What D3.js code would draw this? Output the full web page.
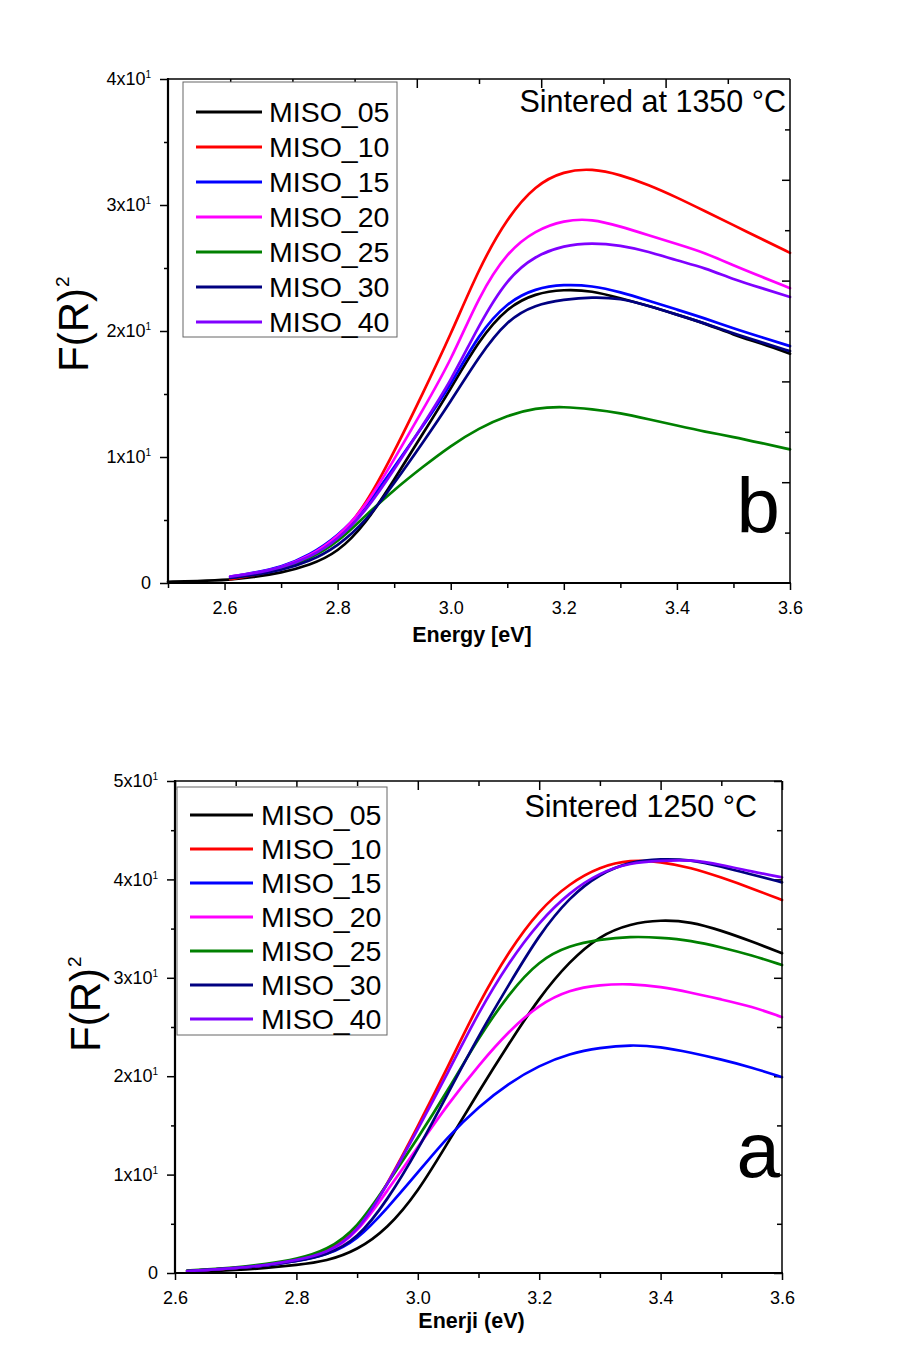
<!DOCTYPE html>
<html lang="en">
<head>
<meta charset="UTF-8" />
<title>F(R)2 vs energy</title>
<script src="https://d3js.org/d3.v7.min.js"></script>
<style>
  html, body { margin: 0; background: #fff; }
  svg { display: block; font-family: Arial, 'Liberation Sans', sans-serif; }
  .tick line { stroke: #000; stroke-width: 1.5px; }
  .tick text { fill: #000; }
  .series { fill: none; stroke-width: 2.7px; stroke-linejoin: round; stroke-linecap: round; }
</style>
</head>
<body>
<svg id="chart" width="905" height="1367"></svg>
<script>
const seriesNames = ['MISO_05', 'MISO_10', 'MISO_15', 'MISO_20', 'MISO_25', 'MISO_30', 'MISO_40'];
const seriesColors = ['#000000', '#ff0000', '#0000ff', '#ff00ff', '#008000', '#000080', '#8000ff'];

// panel b : sintered at 1350 C
const energyB = [2.5, 2.55, 2.61, 2.65, 2.7, 2.75, 2.8, 2.85, 2.9, 2.95, 3.0, 3.05, 3.1, 3.15, 3.2, 3.25, 3.3, 3.35, 3.4, 3.45, 3.5, 3.55, 3.6];
const b05 = [0.1, 0.15, 0.25, 0.45, 0.8, 1.4, 2.4, 4.7, 8.2, 11.8, 15.4, 19.3, 21.9, 23.0, 23.3, 23.2, 22.6, 22.0, 21.3, 20.6, 19.7, 19.0, 18.2];
const b10 = [null, null, 0.3, 0.6, 1.1, 2.0, 3.4, 6.2, 10.4, 15.0, 19.7, 25.0, 29.0, 31.6, 32.7, 32.9, 32.4, 31.6, 30.6, 29.5, 28.4, 27.3, 26.2];
const b15 = [null, null, 0.5, 0.8, 1.25, 2.2, 3.7, 6.0, 9.2, 12.4, 15.7, 19.8, 22.3, 23.4, 23.7, 23.6, 23.1, 22.4, 21.7, 21.0, 20.2, 19.5, 18.8];
const b20 = [null, null, 0.5, 0.75, 1.2, 2.1, 3.6, 6.1, 9.8, 13.7, 17.6, 22.8, 26.3, 28.0, 28.8, 28.9, 28.3, 27.6, 26.9, 26.2, 25.2, 24.3, 23.4];
const b25 = [null, null, 0.4, 0.65, 1.1, 1.9, 3.2, 5.4, 7.4, 9.2, 10.9, 12.3, 13.3, 13.9, 14.0, 13.8, 13.5, 13.0, 12.5, 12.0, 11.6, 11.1, 10.6];
const b30 = [null, null, 0.4, 0.6, 1.0, 1.7, 2.9, 4.9, 7.9, 11.1, 14.4, 18.0, 20.9, 22.1, 22.5, 22.7, 22.6, 22.0, 21.3, 20.6, 19.8, 19.1, 18.4];
const b40 = [null, null, 0.5, 0.75, 1.2, 2.0, 3.4, 5.7, 9.0, 12.5, 16.0, 20.5, 24.2, 26.0, 26.8, 27.0, 26.8, 26.3, 25.6, 25.0, 24.1, 23.4, 22.7];

// panel a : sintered 1250 C
const energyA = [2.62, 2.65, 2.7, 2.75, 2.8, 2.85, 2.9, 2.95, 3.0, 3.05, 3.1, 3.15, 3.2, 3.25, 3.3, 3.35, 3.4, 3.45, 3.5, 3.55, 3.6];
const a05 = [0.1, 0.15, 0.3, 0.5, 0.8, 1.2, 2.3, 4.5, 8.2, 13.3, 18.4, 23.3, 28.0, 31.7, 34.3, 35.5, 35.9, 35.7, 34.8, 33.7, 32.5];
const a10 = [0.2, 0.3, 0.5, 0.8, 1.3, 2.1, 4.1, 9.0, 14.9, 21.0, 27.4, 32.7, 36.9, 39.6, 41.3, 42.0, 41.8, 41.2, 40.2, 39.1, 37.9];
const a15 = [0.2, 0.3, 0.5, 0.75, 1.2, 1.8, 3.3, 6.6, 10.2, 13.9, 16.9, 19.3, 21.1, 22.3, 22.9, 23.2, 23.0, 22.4, 21.7, 20.9, 19.9];
const a20 = [0.2, 0.3, 0.5, 0.75, 1.25, 1.9, 4.0, 8.4, 12.8, 17.2, 21.1, 24.6, 27.3, 28.8, 29.3, 29.4, 29.1, 28.5, 27.8, 27.1, 26.0];
const a25 = [0.25, 0.35, 0.55, 0.9, 1.4, 2.3, 4.5, 9.1, 13.7, 18.6, 23.9, 28.4, 31.8, 33.3, 33.9, 34.2, 34.1, 33.8, 33.1, 32.3, 31.3];
const a30 = [0.2, 0.3, 0.5, 0.75, 1.2, 1.8, 3.4, 7.4, 12.5, 18.3, 24.1, 29.3, 34.4, 38.2, 40.6, 41.8, 42.1, 42.0, 41.3, 40.5, 39.7];
const a40 = [0.2, 0.3, 0.5, 0.8, 1.3, 2.0, 4.0, 9.0, 14.6, 20.4, 26.5, 31.6, 35.7, 38.7, 40.7, 41.7, 41.9, 42.0, 41.5, 40.8, 40.2];

// axis ticks
const xMajorB = [2.6, 2.8, 3.0, 3.2, 3.4, 3.6];
const xMinorB = [2.5, 2.7, 2.9, 3.1, 3.3, 3.5];
const yMajorB = [0, 10, 20, 30, 40];
const yMinorB = [5, 15, 25, 35];
const yRightB = [4, 8, 12, 16, 20, 24, 28, 32, 36];
const xTopB = [2.61, 2.72, 2.83, 2.94, 3.05, 3.16, 3.27, 3.38, 3.49];

const xMajorA = [2.6, 2.8, 3.0, 3.2, 3.4, 3.6];
const xMinorA = [2.7, 2.9, 3.1, 3.3, 3.5];
const yMajorA = [0, 10, 20, 30, 40, 50];
const yMinorA = [5, 15, 25, 35, 45];

const svg = d3.select('#chart');

const drawPanel = (p) => {
	const g = svg.append('g');
	const x = d3.scaleLinear().domain(p.xDomain).range([p.left, p.right]);
	const y = d3.scaleLinear().domain(p.yDomain).range([p.bottom, p.top]);

	// bottom axis
	g.append('g')
		.attr('transform', `translate(0,${p.bottom})`)
		.call(d3.axisBottom(x).tickValues(p.xMajor).tickSize(7).tickSizeOuter(0).tickPadding(11).tickFormat(d3.format('.1f')))
		.call((a) => a.select('.domain').remove())
		.call((a) => a.selectAll('text').attr('font-size', 18).attr('font-family', 'Arial, Liberation Sans'));
	g.append('g')
		.attr('transform', `translate(0,${p.bottom})`)
		.call(d3.axisBottom(x).tickValues(p.xMinor).tickSize(5).tickSizeOuter(0).tickFormat(''))
		.call((a) => a.select('.domain').remove());

	// left axis
	const left = g.append('g')
		.attr('transform', `translate(${p.left},0)`)
		.call(d3.axisLeft(y).tickValues(p.yMajor).tickSize(8).tickSizeOuter(0).tickPadding(9))
		.call((a) => a.select('.domain').remove());
	left.selectAll('.tick text')
		.attr('font-size', 18)
		.attr('font-family', 'Arial, Liberation Sans')
		.each(function (d) {
			const t = d3.select(this).text('');
			if (d === 0) {
				t.append('tspan').text('0');
				return;
			}
			t.append('tspan').text(`${d / 10}x10`);
			t.append('tspan').attr('font-size', 10).attr('dy', -7).text('1');
		});
	g.append('g')
		.attr('transform', `translate(${p.left},0)`)
		.call(d3.axisLeft(y).tickValues(p.yMinor).tickSize(4).tickSizeOuter(0).tickFormat(''))
		.call((a) => a.select('.domain').remove());

	// top axis, ticks inward
	g.append('g')
		.attr('transform', `translate(0,${p.top})`)
		.call(d3.axisTop(x).tickValues(p.xTopMajor).tickSize(-9).tickSizeOuter(0).tickFormat(''))
		.call((a) => a.select('.domain').remove());
	g.append('g')
		.attr('transform', `translate(0,${p.top})`)
		.call(d3.axisTop(x).tickValues(p.xTopMinor).tickSize(-5).tickSizeOuter(0).tickFormat(''))
		.call((a) => a.select('.domain').remove());

	// right axis, ticks inward
	g.append('g')
		.attr('transform', `translate(${p.right},0)`)
		.call(d3.axisRight(y).tickValues(p.yRightMajor).tickSize(-8).tickSizeOuter(0).tickFormat(''))
		.call((a) => a.select('.domain').remove());
	g.append('g')
		.attr('transform', `translate(${p.right},0)`)
		.call(d3.axisRight(y).tickValues(p.yRightMinor).tickSize(-5).tickSizeOuter(0).tickFormat(''))
		.call((a) => a.select('.domain').remove());

	// curves
	const line = d3.line()
		.defined((d) => d[1] != null)
		.x((d) => x(d[0]))
		.y((d) => y(d[1]))
		.curve(d3.curveBasis);
	p.series.forEach((vals, i) => {
		g.append('path')
			.attr('class', 'series')
			.attr('stroke', seriesColors[i])
			.attr('d', line(p.energy.map((e, j) => [e, vals[j]])));
	});

	// frame
	g.append('line').attr('x1', p.left).attr('x2', p.right).attr('y1', p.top).attr('y2', p.top)
		.attr('stroke', '#000').attr('stroke-width', 1.5);
	g.append('line').attr('x1', p.right).attr('x2', p.right).attr('y1', p.top).attr('y2', p.bottom)
		.attr('stroke', '#000').attr('stroke-width', 1.5);
	g.append('line').attr('x1', p.left).attr('x2', p.right + 1).attr('y1', p.bottom).attr('y2', p.bottom)
		.attr('stroke', '#000').attr('stroke-width', 2.2);
	g.append('line').attr('x1', p.left).attr('x2', p.left).attr('y1', p.top - 1).attr('y2', p.bottom + 1)
		.attr('stroke', '#000').attr('stroke-width', 2.2);

	// legend
	const lg = g.append('g');
	lg.append('rect')
		.attr('x', p.legend.x).attr('y', p.legend.y)
		.attr('width', p.legend.w).attr('height', p.legend.h)
		.attr('fill', '#fff').attr('stroke', '#666').attr('stroke-width', 1);
	seriesNames.forEach((name, i) => {
		const ly = p.legend.row0 + i * p.legend.step;
		lg.append('line')
			.attr('x1', p.legend.lx1).attr('x2', p.legend.lx2)
			.attr('y1', ly).attr('y2', ly)
			.attr('stroke', seriesColors[i]).attr('stroke-width', 3.2);
		lg.append('text')
			.attr('x', p.legend.tx).attr('y', ly + 9.5)
			.attr('font-size', 28.5)
			.text(name);
	});

	// titles
	g.append('text')
		.attr('x', p.titleX).attr('y', p.titleY)
		.attr('text-anchor', 'end')
		.attr('font-size', 30.5)
		.text(p.title);
	g.append('text')
		.attr('x', 780).attr('y', p.letterY)
		.attr('text-anchor', 'end')
		.attr('font-size', 78)
		.text(p.letter);
	g.append('text')
		.attr('x', (p.left + p.right) / 2 - 7).attr('y', p.xLabelY)
		.attr('text-anchor', 'middle')
		.attr('font-size', 21.5)
		.attr('font-weight', 'bold')
		.text(p.xLabel);
	const yl = g.append('text')
		.attr('transform', `translate(${p.yLabelX},${p.yLabelY}) rotate(-90)`)
		.attr('font-size', 42);
	yl.append('tspan').text('F(R)');
	yl.append('tspan').attr('font-size', 19).attr('dy', -19).attr('dx', 1).text('2');
};

drawPanel({
	left: 168, right: 790, top: 79, bottom: 583,
	xDomain: [2.5, 3.6], yDomain: [0, 40],
	xMajor: xMajorB, xMinor: xMinorB, yMajor: yMajorB, yMinor: yMinorB,
	xTopMajor: xTopB.filter((d, i) => i % 2 === 1), xTopMinor: xTopB.filter((d, i) => i % 2 === 0),
	yRightMajor: yRightB.filter((d, i) => i % 2 === 1), yRightMinor: yRightB.filter((d, i) => i % 2 === 0),
	energy: energyB,
	series: [b05, b10, b15, b20, b25, b30, b40],
	legend: { x: 183, y: 82, w: 214, h: 255, row0: 112, step: 35, lx1: 196, lx2: 262, tx: 269 },
	title: 'Sintered at 1350 °C', titleX: 786, titleY: 112,
	letter: 'b', letterY: 533,
	xLabel: 'Energy [eV]', xLabelY: 642,
	yLabelX: 88, yLabelY: 372,
});

drawPanel({
	left: 175, right: 782, top: 781, bottom: 1273,
	xDomain: [2.6, 3.6], yDomain: [0, 50],
	xMajor: xMajorA, xMinor: xMinorA, yMajor: yMajorA, yMinor: yMinorA,
	xTopMajor: xMajorA, xTopMinor: xMinorA,
	yRightMajor: yMajorA, yRightMinor: yMinorA,
	energy: energyA,
	series: [a05, a10, a15, a20, a25, a30, a40],
	legend: { x: 177, y: 787, w: 210, h: 248, row0: 815, step: 34, lx1: 190, lx2: 253, tx: 261 },
	title: 'Sintered 1250 °C', titleX: 757, titleY: 817,
	letter: 'a', letterY: 1177,
	xLabel: 'Enerji (eV)', xLabelY: 1328,
	yLabelX: 100, yLabelY: 1052,
});
</script>
</body>
</html>
